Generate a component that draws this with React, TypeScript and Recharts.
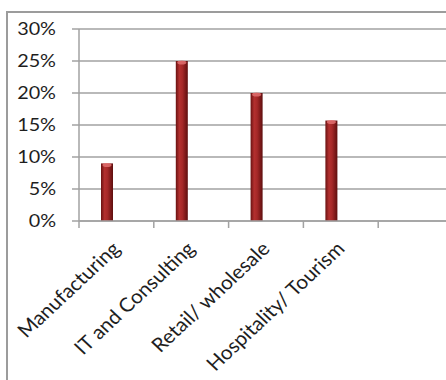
import React from 'react';
import { BarChart, Bar, XAxis, YAxis, CartesianGrid } from 'recharts';

const categories = ['Manufacturing', 'IT and Consulting', 'Retail/ wholesale', 'Hospitality/ Tourism', ''];
const shares: (number | null)[] = [0.09, 0.25, 0.2, 0.157, null];
const yTicks = [0, 0.05, 0.1, 0.15, 0.2, 0.25, 0.3];

const data = categories.map((name, i) => ({ name, share: shares[i] }));

const FONT = 'Lato, "Open Sans", sans-serif';
const Y_STRETCH = 1.2;
const X_STRETCH = 1.07;
const GRID = '#a2a2a2';
const TEXT = '#1e1e1e';
const BAR_SHIFT = -9;

const XTick = (props: any) => {
  const { x, y, payload, index } = props;
  const off = payload && typeof payload.offset === 'number' && payload.offset > 0 ? payload.offset : 37.4;
  const last = index === categories.length - 1;
  return (
    <g>
      <line x1={x - off} x2={x - off} y1={y} y2={y + 7} stroke={GRID} strokeWidth={1.5} />
      {last && <line x1={x + off} x2={x + off} y1={y} y2={y + 7} stroke={GRID} strokeWidth={1.5} />}
      <g transform={`translate(${x + 5},${y + 29}) scale(${X_STRETCH},1) rotate(-45)`}>
        <text x={0} y={0} textAnchor="end" fontSize={19.5} fill={TEXT} fontFamily={FONT}>
          {payload.value}
        </text>
      </g>
    </g>
  );
};

const YTick = (props: any) => {
  const { x, y, payload } = props;
  return (
    <g transform={`translate(${x},${y}) scale(${Y_STRETCH},1)`}>
      <text x={0} y={0} dy="0.36em" textAnchor="end" fontSize={16.5} fill={TEXT} fontFamily={FONT}>
        {`${Math.round(payload.value * 100)}%`}
      </text>
    </g>
  );
};

const Column = (props: any) => {
  const { x, y, width, height } = props;
  if (!height || height <= 0) return null;
  const bx = x + BAR_SHIFT;
  return (
    <g>
      <rect x={bx} y={y} width={width} height={height} fill="url(#colGrad)" />
      <ellipse cx={bx + width / 2} cy={y + 1.5} rx={width / 2 - 1.5} ry={2} fill="#e07070" opacity={0.85} />
    </g>
  );
};

export default function App() {
  return (
    <div style={{ position: 'fixed', inset: 0, overflow: 'hidden', background: '#fff' }}>
      <div
        style={{
          position: 'absolute',
          left: 6,
          top: 11,
          width: 480,
          height: 390,
          borderLeft: '2px solid #9c9c9c',
          borderTop: '2px solid #9c9c9c',
          fontFamily: FONT,
        }}
      >
        <BarChart
          width={460}
          height={370}
          data={data}
          margin={{ top: 16, right: 15, bottom: 12, left: 0 }}
          barSize={12}
        >
          <defs>
            <linearGradient id="colGrad" x1="0" y1="0" x2="1" y2="0">
              <stop offset="0%" stopColor="#6a1212" />
              <stop offset="30%" stopColor="#b3302f" />
              <stop offset="55%" stopColor="#a52828" />
              <stop offset="100%" stopColor="#5e0e0e" />
            </linearGradient>
          </defs>
          <CartesianGrid vertical={false} stroke={GRID} strokeWidth={1.5} />
          <XAxis
            dataKey="name"
            interval={0}
            height={150}
            tickLine={false}
            tickSize={0}
            tickMargin={0}
            axisLine={{ stroke: GRID, strokeWidth: 1.5 }}
            tick={<XTick />}
          />
          <YAxis
            width={71}
            domain={[0, 0.3]}
            ticks={yTicks}
            interval={0}
            tickSize={7}
            tickMargin={16}
            tickLine={{ stroke: GRID, strokeWidth: 1.5 }}
            axisLine={{ stroke: GRID, strokeWidth: 1.5 }}
            tick={<YTick />}
          />
          <Bar dataKey="share" shape={<Column />} isAnimationActive={false} />
        </BarChart>
      </div>
    </div>
  );
}
